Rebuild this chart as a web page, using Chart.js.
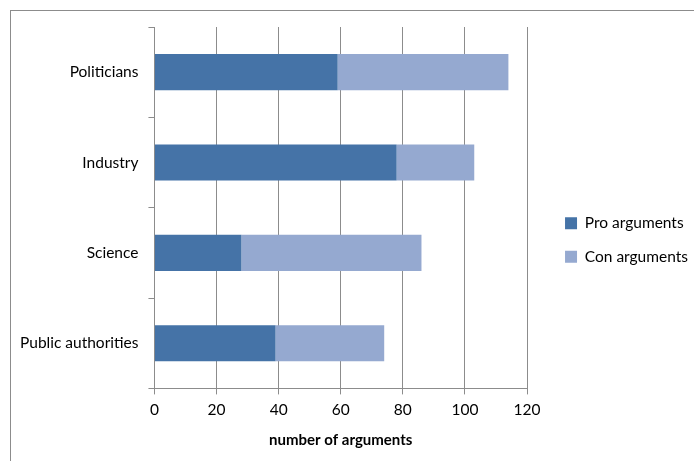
<!DOCTYPE html>
<html>
<head>
<meta charset="utf-8">
<script src="https://cdn.jsdelivr.net/npm/chart.js@4"></script>
<style>
  html, body { margin: 0; padding: 0; background: #fff; }
  #frame { position: absolute; left: 10px; top: 10px; width: 700px; height: 470px; border: 1px solid #8c8c8c; }
  #wrap { position: absolute; left: 0; top: 0; width: 694px; height: 461px; }
</style>
</head>
<body>
<div id="frame"></div>
<div id="wrap"><canvas id="argChart"></canvas></div>
<script>
const categories = ["Politicians", "Industry", "Science", "Public authorities"];
const proArguments = [59, 78, 28, 39];
const conArguments = [55, 25, 58, 35];
const xTicks = [0, 20, 40, 60, 80, 100, 120];

const font = "Lato, 'Open Sans', sans-serif";

// nudge the legend a bit to the right of the plot, like the original
const legendShift = {
  id: "legendShift",
  afterLayout(chart) {
    const lg = chart.legend;
    if (!lg) return;
    lg.left += 20;
    lg.right += 20;
    lg.legendHitBoxes.forEach((b) => { b.left += 20; });
  },
};

const ctx = document.getElementById("argChart").getContext("2d");
const chart = new Chart(ctx, {
  type: "bar",
  data: {
    labels: categories,
    datasets: [
      { label: "Pro arguments", data: proArguments, backgroundColor: "#4573a7", borderWidth: 0 },
      { label: "Con arguments", data: conArguments, backgroundColor: "#95a9d0", borderWidth: 0 },
    ],
  },
  options: {
    indexAxis: "y",
    responsive: true,
    maintainAspectRatio: false,
    animation: false,
    datasets: { bar: { barPercentage: 0.4, categoryPercentage: 1 } },
    layout: { padding: { top: 27, bottom: 8, left: 10, right: 16 } },
    plugins: {
      tooltip: { enabled: false },
      legend: {
        position: "right",
        labels: {
          boxWidth: 12,
          boxHeight: 12,
          padding: 18,
          color: "#000",
          font: { family: font, size: 15.5 },
        },
      },
    },
    scales: {
      x: {
        stacked: true,
        min: 0,
        max: 120,
        afterBuildTicks: (axis) => { axis.ticks = xTicks.map((v) => ({ value: v })); },
        grid: { color: "#8c8c8c", lineWidth: 1, tickLength: 6 },
        border: { color: "#8c8c8c" },
        ticks: { color: "#000", font: { family: font, size: 15.5 }, padding: 6 },
        title: { display: true, text: "number of arguments", color: "#000", font: { family: font, size: 15, weight: "bold" }, padding: { top: 6 } },
      },
      y: {
        stacked: true,
        grid: { drawOnChartArea: false, color: "#8c8c8c", tickLength: 6, offset: true },
        border: { color: "#8c8c8c" },
        ticks: { color: "#000", font: { family: font, size: 15.5 }, padding: 10 },
      },
    },
  },
  plugins: [legendShift],
});
</script>
</body>
</html>
